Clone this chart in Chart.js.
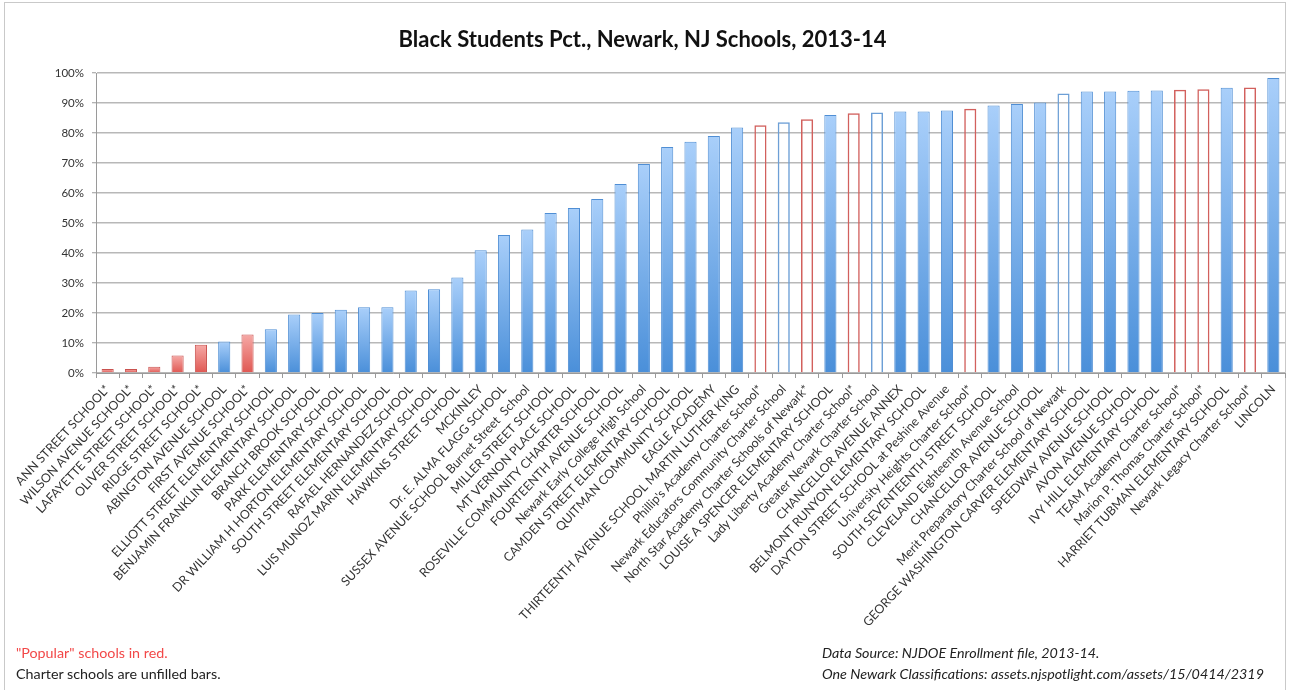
<!DOCTYPE html>
<html><head><meta charset="utf-8">
<script src="https://cdn.jsdelivr.net/npm/chart.js@4/dist/chart.umd.min.js"></script>
<style>
html,body{margin:0;padding:0;background:#fff;}
#wrap{position:relative;width:1290px;height:690px;overflow:hidden;}
#frame{position:absolute;left:4px;top:2px;width:1282px;height:720px;border:1px solid #c9c9c9;box-sizing:border-box;}
canvas{position:absolute;left:0;top:0;}
.note{position:absolute;font-family:Lato,"Open Sans",sans-serif;font-size:14.3px;line-height:16px;white-space:nowrap;}
.it{font-style:italic;color:#222;}
</style></head><body>
<div id="wrap">
<div id="frame"></div>
<canvas id="c" width="1290" height="690"></canvas>
<div class="note" style="left:16px;top:645px;color:#f24848;">"Popular" schools in red.</div>
<div class="note" style="left:16px;top:666px;color:#222;">Charter schools are unfilled bars.</div>
<div class="note it" style="left:822px;top:645px;">Data Source: NJDOE Enrollment file, 2013-14.</div>
<div class="note it" style="left:822px;top:666px;">One Newark Classifications: assets.njspotlight.com/assets/15/0414/2319</div>
</div>
<script>
const schools = [
 "ANN STREET SCHOOL*","WILSON AVENUE SCHOOL*","LAFAYETTE STREET SCHOOL*","OLIVER STREET SCHOOL*",
 "RIDGE STREET SCHOOL*","ABINGTON AVENUE SCHOOL","FIRST AVENUE SCHOOL*","ELLIOTT STREET ELEMENTARY SCHOOL",
 "BENJAMIN FRANKLIN ELEMENTARY SCHOOL","BRANCH BROOK SCHOOL","PARK ELEMENTARY SCHOOL",
 "DR WILLIAM H HORTON ELEMENTARY SCHOOL","SOUTH STREET ELEMENTARY SCHOOL","RAFAEL HERNANDEZ SCHOOL",
 "LUIS MUNOZ MARIN ELEMENTARY SCHOOL","HAWKINS STREET SCHOOL","MCKINLEY","Dr. E. ALMA FLAGG SCHOOL",
 "SUSSEX AVENUE SCHOOL Burnet Street  School","MILLER STREET SCHOOL","MT VERNON PLACE SCHOOL",
 "ROSEVILLE COMMUNITY CHARTER SCHOOL","FOURTEENTH AVENUE SCHOOL","Newark Early College High School",
 "CAMDEN STREET ELEMENTARY SCHOOL","QUITMAN COMMUNITY SCHOOL","EAGLE ACADEMY",
 "THIRTEENTH AVENUE SCHOOL MARTIN LUTHER KING","Phillip's Academy Charter School*",
 "Newark Educators Community Charter School","North Star Academy Charter Schools of Newark*",
 "LOUISE A SPENCER ELEMENTARY SCHOOL","Lady Liberty Academy Charter School*","Greater Newark Charter School",
 "CHANCELLOR AVENUE ANNEX","BELMONT RUNYON ELEMENTARY SCHOOL","DAYTON STREET SCHOOL at Peshine Avenue",
 "University Heights Charter School*","SOUTH SEVENTEENTH STREET SCHOOL","CLEVELAND Eighteenth Avenue School",
 "CHANCELLOR AVENUE SCHOOL","Merit Preparatory Charter School of Newark",
 "GEORGE WASHINGTON CARVER ELEMENTARY SCHOOL","SPEEDWAY AVENUE SCHOOL","AVON AVENUE SCHOOL",
 "IVY HILL ELEMENTARY SCHOOL","TEAM Academy Charter School*","Marion P. Thomas Charter School*",
 "HARRIET TUBMAN ELEMENTARY SCHOOL","Newark Legacy Charter School*","LINCOLN"
];
const blackPct = [
 1.3,1.3,2.1,5.8,9.4,10.5,12.8,14.6,19.5,20.0,21.1,21.9,21.9,27.5,27.9,31.8,40.9,46.0,47.8,53.3,
 55.0,58.0,63.0,69.7,75.3,77.1,79.0,81.8,82.6,83.6,84.6,86.0,86.6,86.8,87.2,87.2,87.5,88.1,89.2,
 89.7,90.2,93.2,93.8,93.8,94.1,94.2,94.4,94.6,95.1,95.2,98.3
];
const popular = [1,1,1,1,1,0,1,0,0,0,0,0,0,0,0,0,0,0,0,0,0,0,0,0,0,0,0,0,1,0,1,0,1,0,0,0,0,1,0,0,0,0,0,0,0,0,1,1,0,1,0];
const charter = [0,0,0,0,0,0,0,0,0,0,0,0,0,0,0,0,0,0,0,0,0,0,0,0,0,0,0,0,1,1,1,0,1,1,0,0,0,1,0,0,0,1,0,0,0,0,1,1,0,1,0];
const yTicks = [0,10,20,30,40,50,60,70,80,90,100];

const FONT = 'Lato, "Open Sans", sans-serif';

function fill(ctx){
  const i = ctx.dataIndex;
  if (charter[i]) return 'rgba(255,255,255,0)';
  const chart = ctx.chart, area = chart.chartArea;
  const top = popular[i] ? '#f6a9a6' : '#a9cffa';
  const bot = popular[i] ? '#df5752' : '#4a8fd9';
  if (!area) return bot;
  const ys = chart.scales.y;
  const y0 = ys.getPixelForValue(blackPct[i]);
  const g = chart.ctx.createLinearGradient(0, y0, 0, area.bottom);
  g.addColorStop(0, top); g.addColorStop(1, bot);
  return g;
}
function border(ctx){
  const i = ctx.dataIndex;
  if (charter[i]) return popular[i] ? '#d2605d' : '#6d9fd6';
  return popular[i] ? '#c9524f' : '#4f8ed4';
}

new Chart(document.getElementById('c'), {
  type: 'bar',
  data: {
    labels: schools,
    datasets: [{
      data: blackPct,
      backgroundColor: fill,
      borderColor: border,
      borderWidth: ctx => charter[ctx.dataIndex] ? 1.5 : 1,
      barPercentage: 0.52,
      categoryPercentage: 1.0
    }]
  },
  options: {
    responsive: false,
    animation: false,
    devicePixelRatio: 1,
    layout: { padding: { left: 0, right: 5, top: 0, bottom: 0 } },
    plugins: {
      legend: { display: false },
      tooltip: { enabled: false },
      title: {
        display: true,
        text: 'Black Students Pct., Newark, NJ Schools, 2013-14',
        color: '#111',
        font: { family: FONT, size: 22, weight: 'bold', lineHeight: 1.2 },
        padding: { top: 27, bottom: 19.6 }
      }
    },
    scales: {
      x: {
        grid: { offset: true, drawOnChartArea: false, drawTicks: true, tickLength: 5, color: '#9a9a9a' },
        border: { color: '#9a9a9a', width: 1 },
        ticks: { autoSkip: false, maxRotation: 47, minRotation: 47, color: '#333',
                 font: { family: FONT, size: 12.4 }, padding: 4 },
        afterFit: s => { s.height = 317; }
      },
      y: {
        min: 0, max: 100,
        afterBuildTicks: s => { s.ticks = yTicks.map(v => ({ value: v })); },
        ticks: { callback: v => v + '%', color: '#333', font: { family: FONT, size: 11.5 }, padding: 8 },
        grid: { color: '#b8b8b8', lineWidth: 1.5, tickLength: 4, tickColor: '#9a9a9a', tickWidth: 1 },
        border: { color: '#9a9a9a', width: 1 },
        afterFit: s => { s.width = 96; }
      }
    }
  }
});
</script>
</body></html>
